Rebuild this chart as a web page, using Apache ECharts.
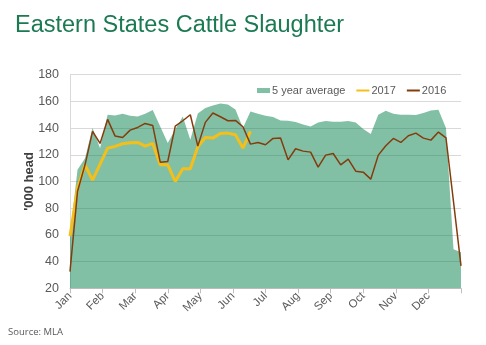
<!DOCTYPE html>
<html>
<head>
<meta charset="utf-8">
<script src="https://cdn.jsdelivr.net/npm/echarts@6/dist/echarts.min.js"></script>
<style>
html,body{margin:0;padding:0;background:#fff;}
#chart{width:486px;height:345px;}
</style>
</head>
<body>
<div id="chart"></div>
<script>
// Weekly data points (53 weeks, Jan -> end of Dec)
const weeks = [];
for (let i = 0; i <= 52; i++) weeks.push('W' + (i + 1));

const monthLabels = ['Jan','Feb','Mar','Apr','May','Jun','Jul','Aug','Sep','Oct','Nov','Dec'];
const yTicks = { min: 20, max: 180, interval: 20 };

const avg5yr = [60,108.75,117.5,140,125,150,149.5,150.75,149.25,148.75,
  150.75,153.5,141.25,128.75,139,148.75,131.25,151,155,157,
  158.5,157.75,154,140,152.5,150.75,149.25,148.25,145.75,145.5,
  144.5,142.75,141.25,144.25,145.25,144.75,144.75,145.25,144.25,139.25,
  135.5,150,153,150.75,150,150,149.75,151.25,153.25,153.75,
  140,49.25,47];

const y2017 = [59,95,112.5,101,113,125,126.25,128.25,129,129.25,
  126.5,128.5,112.5,112.5,100,109.5,109.5,126,133,132.5,
  136,136.25,135,125,137.5];

const y2016 = [32.5,92.5,112.5,137.5,128.5,146.5,134,133,138.5,140.5,
  143.5,142,114.5,115,141.5,145.5,150,126.5,144.3,151.3,
  148.5,145.5,145.75,141,128,129.25,127.5,132.25,132.5,116.25,
  124.5,122.75,122,110.75,119.75,121,112.5,116.75,107.75,107,
  101.75,119.75,126.75,132.25,129.25,134.25,136.25,132.5,131,137,
  132.75,85,36.75];

const chart = echarts.init(document.getElementById('chart'), null, { renderer: 'canvas' });
const FONT = '"Liberation Sans", Arial, sans-serif';
const hiddenMarker = { color: 'rgba(0,0,0,0)', borderWidth: 0, opacity: 0 };

chart.setOption({
  animation: false,
  backgroundColor: '#ffffff',
  title: [
    {
      text: 'Eastern States Cattle Slaughter',
      left: 15, top: 14, padding: 0,
      textStyle: { fontFamily: FONT, fontSize: 23.5, fontWeight: 'normal', color: '#1b7a52' }
    },
    {
      text: 'Source: MLA',
      left: 8, top: 327, padding: 0,
      textStyle: { fontFamily: '"Open Sans", sans-serif', fontSize: 9.5, fontWeight: 'normal', color: '#595959' }
    }
  ],
  legend: {
    left: 252, top: 80,
    itemWidth: 13, itemHeight: 5, itemGap: 10,
    textStyle: { fontFamily: FONT, fontSize: 11, color: '#595959', padding: [0, 0, 0, -3] },
    data: [
      { name: '5 year average', icon: 'rect' },
      { name: '2017', itemStyle: hiddenMarker },
      { name: '2016', itemStyle: hiddenMarker }
    ]
  },
  grid: { left: 70, right: 25, top: 74.7, bottom: 56.7 },
  xAxis: [
    {
      type: 'category', data: weeks, boundaryGap: false,
      show: false
    },
    {
      type: 'value', min: 0, max: 12, interval: 1, position: 'bottom',
      axisLine: { show: true, lineStyle: { color: '#bfbfbf', width: 1 } },
      axisTick: { show: true, length: 5, lineStyle: { color: '#bfbfbf' } },
      splitLine: { show: false },
      axisLabel: {
        rotate: 45, margin: 6, fontFamily: FONT, fontSize: 11.5, color: '#595959',
        formatter: function (v) { return monthLabels[Math.round(v)] || ''; }
      }
    }
  ],
  yAxis: {
    type: 'value', min: yTicks.min, max: yTicks.max, interval: yTicks.interval,
    name: "'000 head", nameLocation: 'middle', nameRotate: 90, nameGap: 34,
    nameMoveOverlap: false,
    nameTextStyle: { fontFamily: FONT, fontSize: 13, fontWeight: 'bold', color: '#404040' },
    axisLine: { show: true, lineStyle: { color: '#d9d9d9' } },
    axisTick: { show: false },
    splitLine: { show: true, lineStyle: { color: '#d9d9d9', width: 1 } },
    axisLabel: { margin: 11, fontFamily: FONT, fontSize: 12.5, color: '#595959' }
  },
  series: [
    {
      name: '5 year average', type: 'line', xAxisIndex: 0, data: avg5yr,
      color: '#82c0a6',
      symbol: 'none', showSymbol: false,
      lineStyle: { width: 0 },
      areaStyle: { color: 'rgba(5,129,77,0.5)', opacity: 1 },
      z: 1
    },
    {
      name: '2017', type: 'line', xAxisIndex: 0, data: y2017,
      color: '#f4bf1a',
      symbol: 'none', showSymbol: false,
      lineStyle: { width: 3, color: '#f4bf1a' },
      z: 2
    },
    {
      name: '2016', type: 'line', xAxisIndex: 0, data: y2016,
      color: '#843c0c',
      symbol: 'none', showSymbol: false,
      lineStyle: { width: 1.5, color: '#843c0c' },
      z: 3
    }
  ]
});
</script>
</body>
</html>
